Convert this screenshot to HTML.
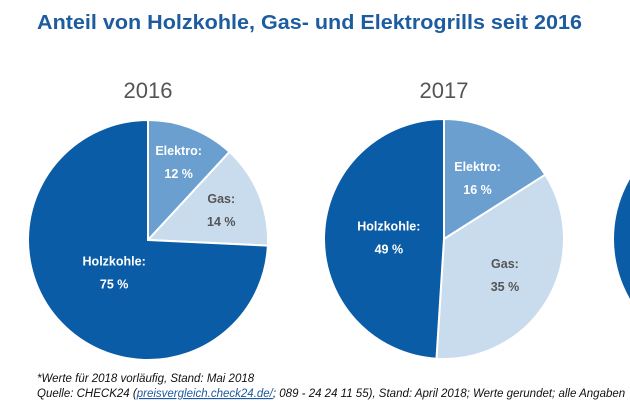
<!DOCTYPE html>
<html><head><meta charset="utf-8"><style>
html,body{margin:0;padding:0;background:#fff;width:630px;height:412px;overflow:hidden}
svg{display:block;font-family:"Liberation Sans",Arial,sans-serif}
</style></head><body>
<svg id="chart" width="630" height="412" viewBox="0 0 630 412">
<text x="37" y="29" font-size="20.5" font-weight="bold" fill="#1d5c9e" textLength="545" lengthAdjust="spacingAndGlyphs">Anteil von Holzkohle, Gas- und Elektrogrills seit 2016</text>
<g id="pies"></g>
<text x="37" y="382" font-size="11.5" font-style="italic" fill="#111">*Werte für 2018 vorläufig, Stand: Mai 2018</text>
<text x="37" y="397" font-size="11.5" font-style="italic" fill="#111">Quelle: CHECK24 (<tspan fill="#1f5aa0" text-decoration="underline">preisvergleich.check24.de/</tspan>; 089 - 24 24 11 55), Stand: April 2018; Werte gerundet; alle Angaben</text>
</svg>
<script>
const years = ['2016', '2017'];
const categories = ['Elektro', 'Gas', 'Holzkohle'];
const values2016 = [12, 14, 75];
const values2017 = [16, 35, 49];
const seriesValues = [values2016, values2017];

const NS = 'http://www.w3.org/2000/svg';
const colors = ['#6a9fcf', '#c9dcee', '#0b5ca6'];
const labelColors = ['#ffffff', '#555555', '#ffffff'];
const centers = [{x:148, y:240}, {x:444, y:239}];
const labelRadius = [[0.70, 0.66, 0.39], [0.58, 0.59, 0.46]];
const labelAngleNudge = [[0, 0, 0], [0, 0, 0]];
const R = 120;
const g = document.getElementById('pies');
function mk(tag, attrs){const e=document.createElementNS(NS,tag);for(const k in attrs)e.setAttribute(k,attrs[k]);return e;}
function pt(c, r, a){return [c.x + r*Math.sin(a), c.y - r*Math.cos(a)];}

years.forEach((yr, yi) => {
  const c = centers[yi];
  const vals = seriesValues[yi];
  const total = vals.reduce((s,v)=>s+v,0);
  const yt = mk('text',{x:c.x, y:98, 'font-size':22, fill:'#555', 'text-anchor':'middle'});
  yt.textContent = yr;
  
  
  g.appendChild(yt);
  let a0 = 0;
  vals.forEach((v, i) => {
    const a1 = a0 + v/total*2*Math.PI;
    const p0 = pt(c,R,a0), p1 = pt(c,R,a1);
    const large = (a1-a0) > Math.PI ? 1 : 0;
    const path = mk('path',{d:`M${c.x},${c.y} L${p0[0]},${p0[1]} A${R},${R} 0 ${large} 1 ${p1[0]},${p1[1]} Z`, fill:colors[i], stroke:'#fff', 'stroke-width':2});
    
    
    g.appendChild(path);
    const am = (a0+a1)/2 + labelAngleNudge[yi][i]*Math.PI/180;
    const lp = pt(c, R*labelRadius[yi][i], am);
    const t1 = mk('text',{x:lp[0], y:lp[1]-7, 'font-size':12.5, 'font-weight':'bold', fill:labelColors[i], 'text-anchor':'middle'});
    t1.textContent = categories[i] + ':';
    
    
    g.appendChild(t1);
    const t2 = mk('text',{x:lp[0], y:lp[1]+16, 'font-size':12.5, 'font-weight':'bold', fill:labelColors[i], 'text-anchor':'middle'});
    t2.textContent = v + ' %';
    
    
    g.appendChild(t2);
    a0 = a1;
  });
});
const partial = mk('circle',{cx:734, cy:239, r:R, fill:'#0b5ca6'});


g.appendChild(partial);
</script>
</body></html>
